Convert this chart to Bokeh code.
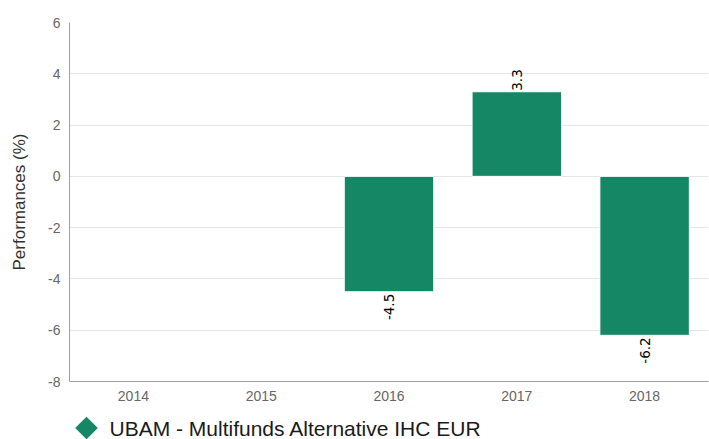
from bokeh.plotting import figure
from bokeh.layouts import column
from bokeh.models import ColumnDataSource, Range1d, FactorRange
from bokeh.embed import file_html
from bokeh.resources import INLINE
from bokeh.core.properties import value

# ---- data ----
years = ["2014", "2015", "2016", "2017", "2018"]
performance = [None, None, -4.5, 3.3, -6.2]
series_name = "UBAM - Multifunds Alternative IHC EUR"
y_ticks = [-8, -6, -4, -2, 0, 2, 4, 6]
y_title = "Performances (%)"

BAR_COLOR = "#168765"
W = 709
LEFT = 69
RIGHT = 1

bar_years = [y for y, v in zip(years, performance) if v is not None]
bar_vals = [v for v in performance if v is not None]

src = ColumnDataSource(dict(x=bar_years, top=bar_vals))
pos = ColumnDataSource(dict(x=[x for x, v in zip(bar_years, bar_vals) if v >= 0],
                            y=[v for v in bar_vals if v >= 0],
                            t=[f"{v:.1f}" for v in bar_vals if v >= 0]))
neg = ColumnDataSource(dict(x=[x for x, v in zip(bar_years, bar_vals) if v < 0],
                            y=[v for v in bar_vals if v < 0],
                            t=[f"{v:.1f}" for v in bar_vals if v < 0]))

p = figure(width=W, height=406,
           x_range=FactorRange(*years, range_padding=0),
           y_range=Range1d(y_ticks[0], y_ticks[-1]),
           output_backend="svg", toolbar_location=None,
           min_border_left=LEFT, min_border_right=RIGHT,
           min_border_top=22, min_border_bottom=25)

p.outline_line_color = None
p.background_fill_color = "white"
p.border_fill_color = "white"

bars = p.vbar(x="x", top="top", bottom=0, width=0.7, source=src,
              fill_color=BAR_COLOR, line_color="white", line_width=1)

label_font = value("DejaVu Sans")
p.text(x="x", y="y", text="t", source=pos, angle=1.5708,
       text_align="left", text_baseline="middle", y_offset=-1,
       text_font=label_font, text_font_size="13.5px", text_color="#000000")
p.text(x="x", y="y", text="t", source=neg, angle=1.5708,
       text_align="right", text_baseline="middle", y_offset=2,
       text_font=label_font, text_font_size="13.5px", text_color="#000000")

# axes
p.yaxis.ticker = y_ticks
p.yaxis.major_label_overrides = {t: str(t) for t in y_ticks}
p.yaxis.axis_label = y_title
p.yaxis.axis_label_text_font = "Liberation Sans"
p.yaxis.axis_label_text_font_size = "17px"
p.yaxis.axis_label_text_font_style = "normal"
p.yaxis.axis_label_text_color = "#333333"
p.yaxis.axis_label_standoff = 16
for ax in (p.xaxis, p.yaxis):
    ax.major_label_text_font = "Liberation Sans"
    ax.major_label_text_font_size = "14px"
    ax.major_label_text_color = "#666666"
    ax.major_tick_in = 0
    ax.major_tick_out = 0
    ax.minor_tick_in = 0
    ax.minor_tick_out = 0
    ax.axis_line_color = "#a0a0a0"
p.yaxis.major_label_standoff = 9
p.xaxis.major_label_standoff = 9

p.xgrid.visible = False
p.ygrid.grid_line_color = "#e6e6e6"
p.ygrid.grid_line_width = 1

# ---- legend strip below the chart ----
# its frame is aligned with the chart's frame, so the ranges are set to page pixels
LH = 33
leg = figure(width=W, height=LH, x_range=Range1d(LEFT, W - RIGHT), y_range=Range1d(LH, 0),
             output_backend="svg", toolbar_location=None,
             x_axis_location=None, y_axis_location=None,
             min_border_left=LEFT, min_border_right=RIGHT,
             min_border_top=0, min_border_bottom=0)
leg.outline_line_color = None
leg.grid.visible = False
leg.scatter(x=[86], y=[21.5], marker="square", angle=0.7854, size=16,
            fill_color=BAR_COLOR, line_color=None)
leg.text(x=[109], y=[21.5], text=[series_name],
         text_align="left", text_baseline="middle",
         text_font=value("Liberation Sans"), text_font_size="21px",
         text_color="#1a1a1a")

layout = column(p, leg, spacing=0)
open("out.html", "w").write(file_html(layout, INLINE))
